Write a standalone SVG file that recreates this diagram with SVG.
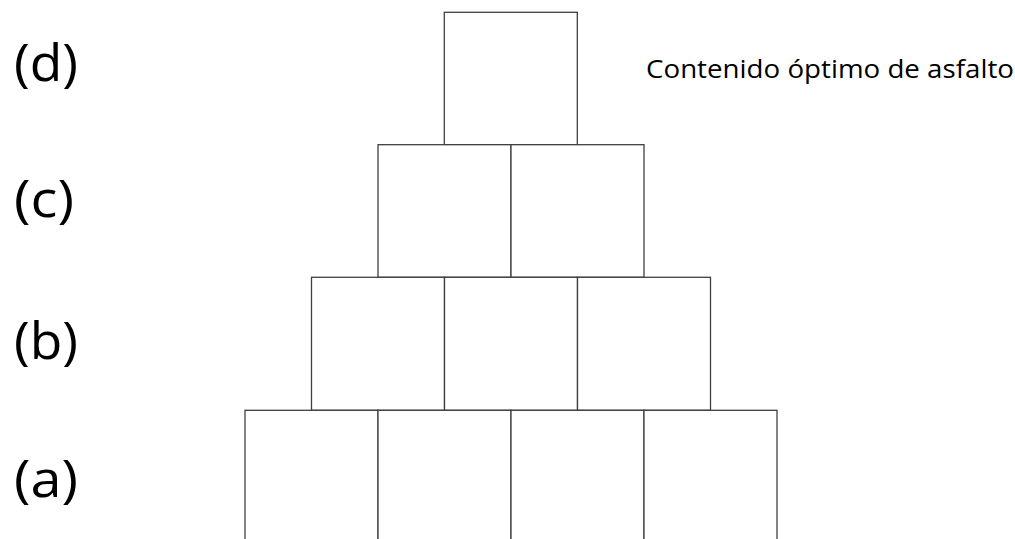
<svg xmlns="http://www.w3.org/2000/svg" width="1015" height="539" viewBox="0 0 1015 539">
<style>
.b{fill:#fff;stroke:#3f3f3f;stroke-width:1.3}
.lbl{font-family:"Open Sans","Liberation Sans",sans-serif;font-size:52px;fill:#000}
.t{font-family:"Open Sans","Liberation Sans",sans-serif;font-size:26px;fill:#000}
</style>
<rect width="1015" height="539" fill="#fff"/>
<g id="row-d">
<rect class="b" x="444.3" y="12.3" width="133" height="132.4"/>
</g>
<g id="row-c">
<rect class="b" x="378" y="144.7" width="133" height="132.6"/>
<rect class="b" x="511" y="144.7" width="133" height="132.6"/>
</g>
<g id="row-b">
<rect class="b" x="311.5" y="277.3" width="133" height="133"/>
<rect class="b" x="444.5" y="277.3" width="133" height="133"/>
<rect class="b" x="577.5" y="277.3" width="133" height="133"/>
</g>
<g id="row-a">
<rect class="b" x="245" y="410.3" width="133" height="140"/>
<rect class="b" x="378" y="410.3" width="133" height="140"/>
<rect class="b" x="511" y="410.3" width="133" height="140"/>
<rect class="b" x="644" y="410.3" width="133" height="140"/>
</g>
<g id="labels">
<text class="lbl" x="14" y="81" textLength="64" lengthAdjust="spacingAndGlyphs">(d)</text>
<text class="lbl" x="14" y="217" textLength="60" lengthAdjust="spacingAndGlyphs">(c)</text>
<text class="lbl" x="14" y="359" textLength="64" lengthAdjust="spacingAndGlyphs">(b)</text>
<text class="lbl" x="14" y="497" textLength="64" lengthAdjust="spacingAndGlyphs">(a)</text>
<text class="t" x="646" y="78" textLength="368" lengthAdjust="spacingAndGlyphs">Contenido óptimo de asfalto</text>
</g>
</svg>
